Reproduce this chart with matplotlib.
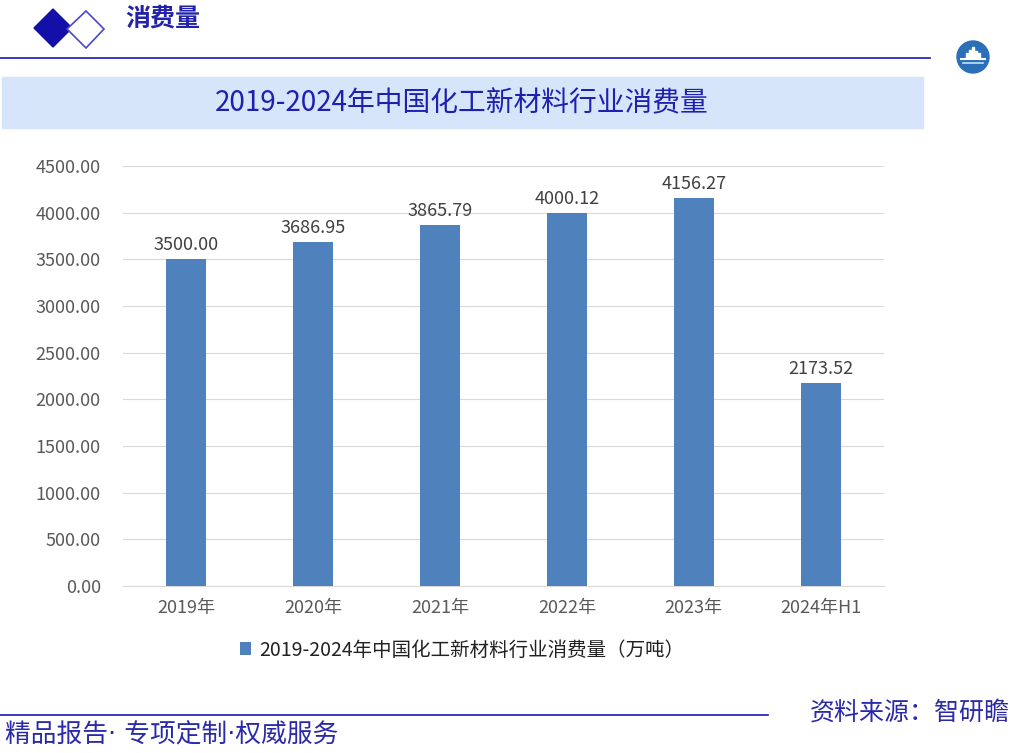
import numpy as np
import matplotlib.pyplot as plt
from matplotlib.patches import Polygon, Rectangle, Circle

plt.rcParams['font.family'] = ['Noto Sans CJK SC', 'DejaVu Sans']

years = ["2019年", "2020年", "2021年", "2022年", "2023年", "2024年H1"]
consumption = [3500.00, 3686.95, 3865.79, 4000.12, 4156.27, 2173.52]
series_name = "2019-2024年中国化工新材料行业消费量（万吨）"
chart_title = "2019-2024年中国化工新材料行业消费量"

W, H = 1017, 753
fig = plt.figure(figsize=(W / 100, H / 100), dpi=100)

# overlay axes in pixel coords for decoration
deco = fig.add_axes([0, 0, 1, 1])
deco.set_xlim(0, W)
deco.set_ylim(H, 0)
deco.axis('off')

deco.add_patch(Polygon([[34, 28], [53, 9], [72, 28], [53, 47]], closed=True, color='#1210A8'))
deco.add_patch(Polygon([[67, 29], [86, 11], [104, 29], [86, 48]], closed=True,
                       facecolor='white', edgecolor='#4B48C8', lw=1.2))
deco.text(125, 19, "消费量", color='#2222AA', fontsize=18, fontweight='bold', va='center', ha='left')
deco.plot([0, 930], [58, 58], color='#1A14B4', lw=1.2)

# small round logo
deco.add_patch(Circle((973, 57), 16, color='#2A6FB8'))
for bx, bh in zip([966, 969, 972, 975, 978], [5, 8, 11, 7, 5]):
    deco.add_patch(Rectangle((bx, 58 - bh), 1.6, bh, color='white'))
deco.plot([961, 985], [59, 59], color='white', lw=1.5)
deco.plot([963, 983], [63, 63], color='#BFE3F5', lw=1.2)

deco.add_patch(Rectangle((2, 77), 921, 51, color='#D6E5FA'))
deco.text(462, 103, chart_title, color='#2020B0', fontsize=20, va='center', ha='center')

deco.plot([0, 768], [715, 715], color='#1A14B4', lw=1.2)
deco.text(5, 736, "精品报告· 专项定制·权威服务", color='#2A2AA8', fontsize=18.5,
          va='center', ha='left', family=['DejaVu Sans', 'Noto Sans CJK SC'])
deco.text(1010, 713, "资料来源：智研瞻", color='#2A2AA8', fontsize=18, va='center', ha='right')

# main chart
ax = fig.add_axes([123 / W, (H - 586) / H, (884 - 123) / W, (586 - 166) / H])
x = np.arange(len(years))
bars = ax.bar(x, consumption, width=0.315, color='#4F81BD', label=series_name, zorder=3)
for xi, v in zip(x, consumption):
    ax.text(xi, v + 55, f"{v:.2f}", ha='center', va='bottom', fontsize=13, color='#404040')

ax.set_xlim(-0.5, len(years) - 0.5)
ax.set_ylim(0, 4500)
ax.set_yticks(np.arange(0, 4501, 500))
ax.set_yticklabels([f"{t:.2f}" for t in np.arange(0, 4501, 500)])
ax.set_xticks(x)
ax.set_xticklabels(years)
ax.tick_params(axis='both', length=0, labelsize=13, labelcolor='#595959')
ax.tick_params(axis='y', pad=16)
ax.tick_params(axis='x', pad=9)
ax.grid(axis='y', color='#D9D9D9', lw=0.8, zorder=0)
for s in ['top', 'right', 'left']:
    ax.spines[s].set_visible(False)
ax.spines['bottom'].set_color('#D9D9D9')

leg = fig.legend(handles=[bars], labels=[series_name], loc='center', bbox_to_anchor=(462 / W, 1 - 650 / H),
                 frameon=False, fontsize=14, handlelength=0.6, handleheight=0.6, handletextpad=0.4)
for t in leg.get_texts():
    t.set_color('#222222')

fig.savefig("out.png", dpi=100)
